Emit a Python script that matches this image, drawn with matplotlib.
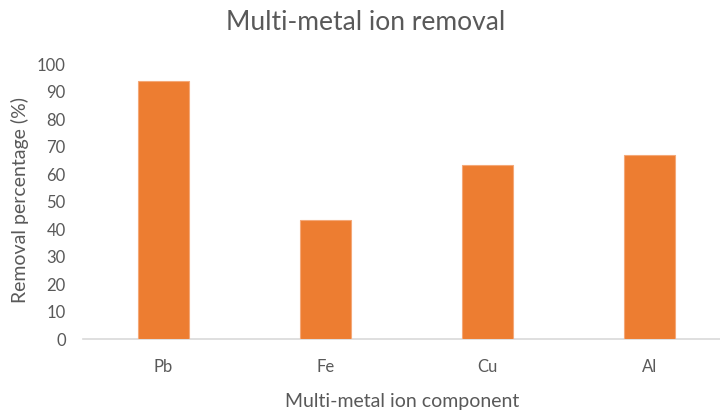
import matplotlib
matplotlib.use("Agg")
import matplotlib.pyplot as plt

categories = ["Pb", "Fe", "Cu", "Al"]
removal = [94.0, 43.5, 63.3, 67.2]

title = "Multi-metal ion removal"
xlabel = "Multi-metal ion component"
ylabel = "Removal percentage (%)"
yticks = [0, 10, 20, 30, 40, 50, 60, 70, 80, 90, 100]

text_color = "#595959"
bar_color = "#ED7D31"

plt.rcParams["font.family"] = ["Lato", "DejaVu Sans"]

fig = plt.figure(figsize=(7.2, 4.13), dpi=100)
W, H = 720, 413
left, right, bottom, top = 82.5, 730.5, 339.3, 64.3
ax = fig.add_axes([left / W, 1 - bottom / H, (right - left) / W, (bottom - top) / H])

x = list(range(len(categories)))
ax.bar(x, removal, width=0.315, color=bar_color, edgecolor="#F4A878", linewidth=0.8, zorder=3)

ax.set_xlim(-0.5, len(categories) - 0.5)
ax.set_ylim(0, 100)
ax.set_yticks(yticks)
ax.set_xticks(x)
ax.set_xticklabels(categories)
ax.tick_params(axis="both", length=0, colors=text_color, labelsize=12)
ax.tick_params(axis="x", pad=14)
ax.tick_params(axis="y", pad=12)
for s in ["top", "right", "left"]:
    ax.spines[s].set_visible(False)
ax.spines["bottom"].set_color("#D9D9D9")
ax.spines["bottom"].set_linewidth(1.2)

fig.text(366 / W, 1 - 22 / H, title, ha="center", va="center", fontsize=19, color=text_color)
fig.text(402 / W, 1 - 402 / H, xlabel, ha="center", va="center", fontsize=14, color=text_color)
fig.text(20 / W, 1 - 200 / H, ylabel, ha="center", va="center", rotation=90, fontsize=14, color=text_color)

fig.savefig("out.png", dpi=100)
